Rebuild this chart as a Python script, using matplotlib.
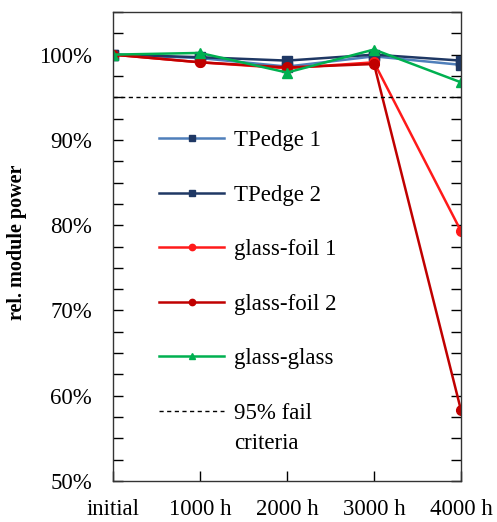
import matplotlib
matplotlib.use("Agg")
import matplotlib.pyplot as plt
from matplotlib.ticker import MultipleLocator, FuncFormatter

categories = ["initial", "1000 h", "2000 h", "3000 h", "4000 h"]
tpedge1 = [100.0, 99.6, 98.6, 99.8, 98.8]
tpedge2 = [100.0, 99.7, 99.3, 100.0, 99.3]
glassfoil1 = [100.0, 99.1, 98.4, 99.1, 79.3]
glassfoil2 = [100.0, 99.1, 98.5, 98.9, 58.3]
glassglass = [100.0, 100.2, 97.9, 100.6, 96.75]
fail_level = 95.0

plt.rcParams['font.family'] = ['Liberation Serif', 'DejaVu Serif']

FS = 16.5
fig = plt.figure(figsize=(4.97, 5.22), dpi=100)
ax = fig.add_axes([113/497, 1-481/522, (461-113)/497, (481-12)/522])

x = list(range(len(categories)))
ax.plot(x, tpedge1, color="#4f7fba", lw=1.8, marker="s", ms=7, mfc="#1f3864", mec="#1f3864", label="TPedge 1")
ax.plot(x, tpedge2, color="#1f3864", lw=1.8, marker="s", ms=7, label="TPedge 2")
ax.plot(x, glassfoil1, color="#ff1a1a", lw=1.8, marker="o", ms=7, label="glass-foil 1")
ax.plot(x, glassfoil2, color="#c00000", lw=1.8, marker="o", ms=7, label="glass-foil 2")
ax.plot(x, glassglass, color="#00b050", lw=1.8, marker="^", ms=7, label="glass-glass")
ax.axhline(fail_level, color="black", lw=1.0, ls=(0, (3, 2.5)), label="95% fail")

ax.set_xlim(0, 4)
ax.set_ylim(50, 105)
ax.set_xticks(x)
ax.set_xticklabels(categories, fontsize=FS)
ax.yaxis.set_major_locator(MultipleLocator(10))
ax.yaxis.set_minor_locator(MultipleLocator(2.5))
ax.yaxis.set_major_formatter(FuncFormatter(lambda v, p: f"{v:.0f}%"))
ax.tick_params(axis='y', which='both', direction='in', right=True, length=7, width=1, labelsize=FS, pad=15)
ax.tick_params(axis='x', direction='in', length=7, width=1, labelsize=FS, pad=13)
for s in ax.spines.values():
    s.set_linewidth(1.0)
    s.set_color("#333333")

ax.set_ylabel("rel. module power", fontsize=14.5, fontweight="bold")
ax.yaxis.set_label_coords(27/497, 1-242/522, transform=fig.transFigure)

leg = ax.legend(loc="upper left", bbox_to_anchor=(159/497, 1-130/522), bbox_transform=fig.transFigure,
                frameon=False, fontsize=FS, handlelength=2.85, labelspacing=1.46, handletextpad=0.42,
                markerscale=0.65, borderpad=0, borderaxespad=0)

fig.canvas.draw()
r = fig.canvas.get_renderer()
t = leg.get_texts()[-1]
bb = t.get_window_extent(r)
ax.text(bb.x0, bb.y0 - 9, "criteria", transform=None, fontsize=FS, ha="left", va="top")

fig.savefig("out.png", dpi=100)
